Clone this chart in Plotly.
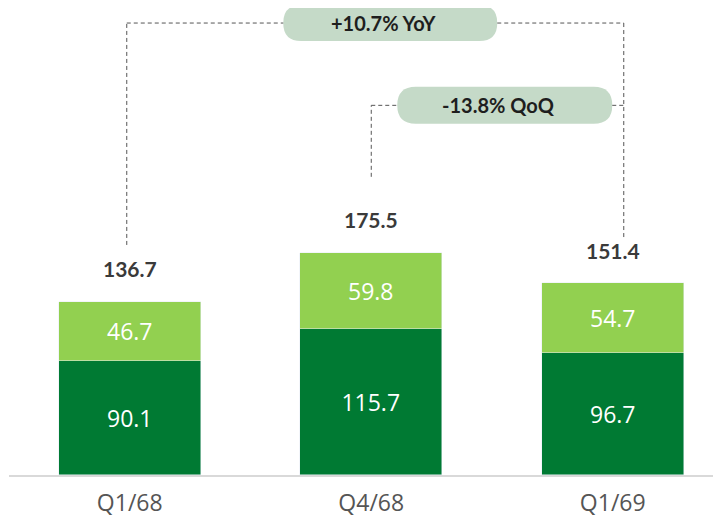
import plotly.graph_objects as go

categories = ["Q1/68", "Q4/68", "Q1/69"]
base_values = [90.1, 115.7, 96.7]
top_values = [46.7, 59.8, 54.7]
totals = [136.7, 175.5, 151.4]
yoy_label = "+10.7% YoY"
qoq_label = "-13.8% QoQ"

DARK = "#007a33"
LIGHT = "#92d050"
PILL = "#c5dac8"
TXT = "#3a3a3a"

x = list(range(len(categories)))

fig = go.Figure()
fig.add_bar(x=x, y=base_values, marker_color=DARK, width=0.588,
            text=[f"{v:.1f}" for v in base_values], textposition="inside",
            insidetextanchor="middle",
            textfont=dict(color="white", size=23, family="Open Sans"),
            hoverinfo="skip")
fig.add_bar(x=x, y=top_values, marker_color=LIGHT, width=0.588,
            text=[f"{v:.1f}" for v in top_values], textposition="inside",
            insidetextanchor="middle",
            textfont=dict(color="white", size=23, family="Open Sans"),
            hoverinfo="skip")

# Total labels
for i, t in enumerate(totals):
    fig.add_annotation(x=i, y=t, text=f"<b>{t:.1f}</b>", showarrow=False,
                       yshift=33, font=dict(size=21, color=TXT, family="Lato"))

PXX = 241.5   # px per x unit
PXY = 1.266   # px per y unit

def px_x(p):
    return p / PXX

def px_y(p):
    return p / PXY

def pill(xc, yc, w_px, h_px, text):
    hw, hh = px_x(w_px / 2), px_y(h_px / 2)
    rx, ry = px_x(h_px / 2), px_y(h_px / 2)
    x0, x1, y0, y1 = xc - hw, xc + hw, yc - hh, yc + hh
    path = (f"M {x0+rx},{y0} L {x1-rx},{y0} Q {x1},{y0} {x1},{y0+ry} "
            f"Q {x1},{y1} {x1-rx},{y1} L {x0+rx},{y1} Q {x0},{y1} {x0},{y1-ry} "
            f"Q {x0},{y0} {x0+rx},{y0} Z")
    fig.add_shape(type="path", path=path, xref="x", yref="y",
                  fillcolor=PILL, line=dict(width=0), layer="above")
    fig.add_annotation(x=xc - px_x(6), y=yc, text=f"<b>{text}</b>", showarrow=False,
                       font=dict(size=20, color="#1e1e1e", family="Lato"))
    return x0, x1

def dline(xa, ya, xb, yb):
    fig.add_shape(type="line", x0=xa, y0=ya, x1=xb, y1=yb, xref="x", yref="y",
                  line=dict(color="#555555", width=1, dash="4px,3px"), layer="above")

# YoY connector
yoy_y = 357
left_x = 0 - px_x(3)
right_x = 2 + px_x(11)
pl, pr = pill((left_x + right_x) / 2 + px_x(15), yoy_y, 214, 36, yoy_label)
dline(left_x, totals[0] + px_y(57), left_x, yoy_y)
dline(left_x, yoy_y, pl, yoy_y)
dline(pr, yoy_y, right_x, yoy_y)
dline(right_x, yoy_y, right_x, totals[2] + px_y(46))

# QoQ connector
qoq_y = 292
q_left = 1
ql, qr = pill(q_left + px_x(26 + 107.5), qoq_y, 215, 37, qoq_label)
dline(q_left, totals[1] + px_y(76), q_left, qoq_y)
dline(q_left, qoq_y, ql, qoq_y)
dline(qr, qoq_y, right_x, qoq_y)

fig.update_layout(
    barmode="stack", showlegend=False,
    width=721, height=527,
    margin=dict(l=1, r=0, t=0, b=60),
    plot_bgcolor="white", paper_bgcolor="white",
    xaxis=dict(range=[-0.5, -0.5 + 720 / PXX], tickvals=x, ticktext=categories,
               showgrid=False, zeroline=False, showline=True,
               linecolor="#d9d9d9", linewidth=2, ticks="",
               ticklabelstandoff=6,
               tickfont=dict(size=23, color="#555555", family="Open Sans")),
    yaxis=dict(range=[0, 467 / PXY], visible=False, showgrid=False),
    bargap=0,
)

fig.write_html("out.html")
